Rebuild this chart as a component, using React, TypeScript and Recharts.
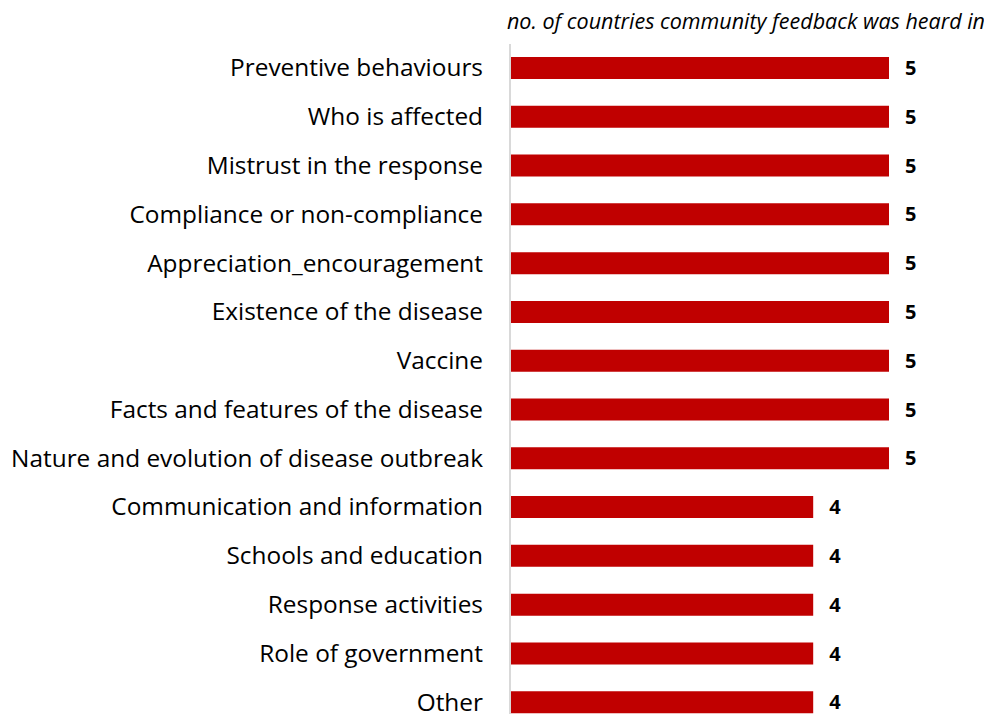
import { BarChart, Bar, XAxis, YAxis, LabelList } from 'recharts';

const categories = [
    'Preventive behaviours',
    'Who is affected',
    'Mistrust in the response',
    'Compliance or non-compliance',
    'Appreciation_encouragement',
    'Existence of the disease',
    'Vaccine',
    'Facts and features of the disease',
    'Nature and evolution of disease outbreak',
    'Communication and information',
    'Schools and education',
    'Response activities',
    'Role of government',
    'Other',
];

const countries = [5, 5, 5, 5, 5, 5, 5, 5, 5, 4, 4, 4, 4, 4];

const axisTitle = 'no. of countries community feedback was heard in';

const FONT = '"Open Sans", "Noto Sans", sans-serif';

const data = categories.map((name, i) => ({ name, value: countries[i] }));

const CategoryTick = ({ x, y, payload }: any) => (
    <text x={x - 19} y={y} dy={8} textAnchor="end" fill="#000" fontSize={24.4} fontFamily={FONT}>
        {payload.value}
    </text>
);

const App = () => {
    return (
        <div style={{ margin: -8, width: 992, height: 730, overflow: 'hidden', position: 'relative', background: '#fff' }}>
            <BarChart
                width={992}
                height={730}
                data={data}
                layout="vertical"
                margin={{ top: 44, right: 103, bottom: 3, left: 0 }}
                barSize={22}
            >
                <XAxis type="number" domain={[0, 5]} hide />
                <YAxis
                    type="category"
                    dataKey="name"
                    width={510}
                    tickLine={false}
                    axisLine={{ stroke: '#d9d9d9', strokeWidth: 2 }}
                    tick={<CategoryTick />}
                    interval={0}
                />
                <Bar dataKey="value" fill="#c00000" isAnimationActive={false}>
                    <LabelList
                        dataKey="value"
                        position="right"
                        offset={16}
                        fill="#000"
                        fontSize={20}
                        fontWeight="bold"
                        fontFamily={FONT}
                    />
                </Bar>
                <text x={985} y={29} textAnchor="end" fontSize={21.5} fontStyle="italic" fontFamily={FONT} fill="#000">
                    {axisTitle}
                </text>
            </BarChart>
        </div>
    );
};

export default App;
